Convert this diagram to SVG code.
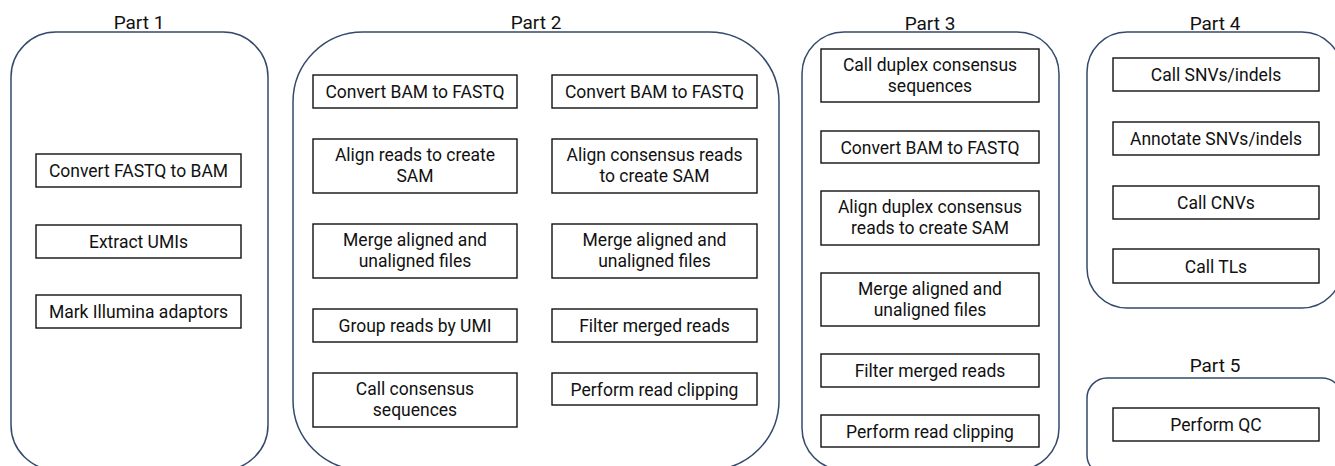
<svg xmlns="http://www.w3.org/2000/svg" width="1335" height="466" viewBox="0 0 1335 466">
<style>
.cont{fill:none;stroke:#34496b;stroke-width:1.5}
.box{fill:#fff;stroke:#111;stroke-width:1.4}
.t{font-family:Roboto,"Liberation Sans",sans-serif;font-size:17.5px;fill:#111;text-anchor:middle}
.h{font-family:Roboto,"Liberation Sans",sans-serif;font-size:19px;fill:#111;text-anchor:middle}
</style>
<rect width="1335" height="466" fill="#fff"/>
<g id="part1">
<rect class="cont" x="11" y="32" width="257" height="438" rx="45"/>
<text class="h" x="139" y="29">Part 1</text>
</g>
<g id="part2">
<rect class="cont" x="293" y="32" width="486" height="438" rx="70"/>
<text class="h" x="536" y="29">Part 2</text>
</g>
<g id="part3">
<rect class="cont" x="802" y="32" width="257" height="438" rx="42"/>
<text class="h" x="930" y="30">Part 3</text>
</g>
<g id="part4">
<rect class="cont" x="1087" y="32" width="255" height="276" rx="40"/>
<text class="h" x="1215" y="30">Part 4</text>
</g>
<g id="part5">
<rect class="cont" x="1087" y="378" width="255" height="97" rx="20"/>
<text class="h" x="1215" y="372">Part 5</text>
</g>

<g id="p1-convert-fastq"><rect class="box" x="36" y="154" width="205" height="33"/><text class="t" x="138.5" y="177">Convert FASTQ to BAM</text></g>
<g id="p1-extract-umis"><rect class="box" x="36" y="225" width="205" height="33"/><text class="t" x="138.5" y="248">Extract UMIs</text></g>
<g id="p1-mark-adaptors"><rect class="box" x="36" y="295" width="205" height="33"/><text class="t" x="138.5" y="318">Mark Illumina adaptors</text></g>

<g id="p2-convert-bam-a"><rect class="box" x="313" y="75" width="204" height="33"/><text class="t" x="415" y="98">Convert BAM to FASTQ</text></g>
<g id="p2-align-a"><rect class="box" x="313" y="139" width="204" height="54"/><text class="t" x="415" y="161">Align reads to create</text><text class="t" x="415" y="182">SAM</text></g>
<g id="p2-merge-a"><rect class="box" x="313" y="224" width="204" height="54"/><text class="t" x="415" y="246">Merge aligned and</text><text class="t" x="415" y="267">unaligned files</text></g>
<g id="p2-group"><rect class="box" x="313" y="309" width="204" height="33"/><text class="t" x="415" y="332">Group reads by UMI</text></g>
<g id="p2-call-consensus"><rect class="box" x="313" y="373" width="204" height="54"/><text class="t" x="415" y="395">Call consensus</text><text class="t" x="415" y="416">sequences</text></g>

<g id="p2-convert-bam-b"><rect class="box" x="552" y="75" width="205" height="33"/><text class="t" x="654.5" y="98">Convert BAM to FASTQ</text></g>
<g id="p2-align-b"><rect class="box" x="552" y="139" width="205" height="54"/><text class="t" x="654.5" y="161">Align consensus reads</text><text class="t" x="654.5" y="182">to create SAM</text></g>
<g id="p2-merge-b"><rect class="box" x="552" y="224" width="205" height="54"/><text class="t" x="654.5" y="246">Merge aligned and</text><text class="t" x="654.5" y="267">unaligned files</text></g>
<g id="p2-filter"><rect class="box" x="552" y="309" width="205" height="33"/><text class="t" x="654.5" y="332">Filter merged reads</text></g>
<g id="p2-clip"><rect class="box" x="552" y="373" width="205" height="32"/><text class="t" x="654.5" y="395.5">Perform read clipping</text></g>

<g id="p3-duplex"><rect class="box" x="821" y="49" width="218" height="53"/><text class="t" x="930" y="71">Call duplex consensus</text><text class="t" x="930" y="92">sequences</text></g>
<g id="p3-convert-bam"><rect class="box" x="821" y="131" width="218" height="32"/><text class="t" x="930" y="153.5">Convert BAM to FASTQ</text></g>
<g id="p3-align"><rect class="box" x="821" y="191" width="218" height="54"/><text class="t" x="930" y="213">Align duplex consensus</text><text class="t" x="930" y="234">reads to create SAM</text></g>
<g id="p3-merge"><rect class="box" x="821" y="273" width="218" height="53"/><text class="t" x="930" y="295">Merge aligned and</text><text class="t" x="930" y="316">unaligned files</text></g>
<g id="p3-filter"><rect class="box" x="821" y="354" width="218" height="33"/><text class="t" x="930" y="377">Filter merged reads</text></g>
<g id="p3-clip"><rect class="box" x="821" y="415" width="218" height="32"/><text class="t" x="930" y="437.5">Perform read clipping</text></g>

<g id="p4-call-snv"><rect class="box" x="1113" y="58" width="206" height="33"/><text class="t" x="1216" y="81">Call SNVs/indels</text></g>
<g id="p4-annotate"><rect class="box" x="1113" y="122" width="206" height="33"/><text class="t" x="1216" y="145">Annotate SNVs/indels</text></g>
<g id="p4-cnv"><rect class="box" x="1113" y="186" width="206" height="33"/><text class="t" x="1216" y="209">Call CNVs</text></g>
<g id="p4-tl"><rect class="box" x="1113" y="249" width="206" height="34"/><text class="t" x="1216" y="272.5">Call TLs</text></g>
<g id="p5-qc"><rect class="box" x="1113" y="408" width="206" height="33"/><text class="t" x="1216" y="431">Perform QC</text></g>

<g id="connectors"/>
</svg>
